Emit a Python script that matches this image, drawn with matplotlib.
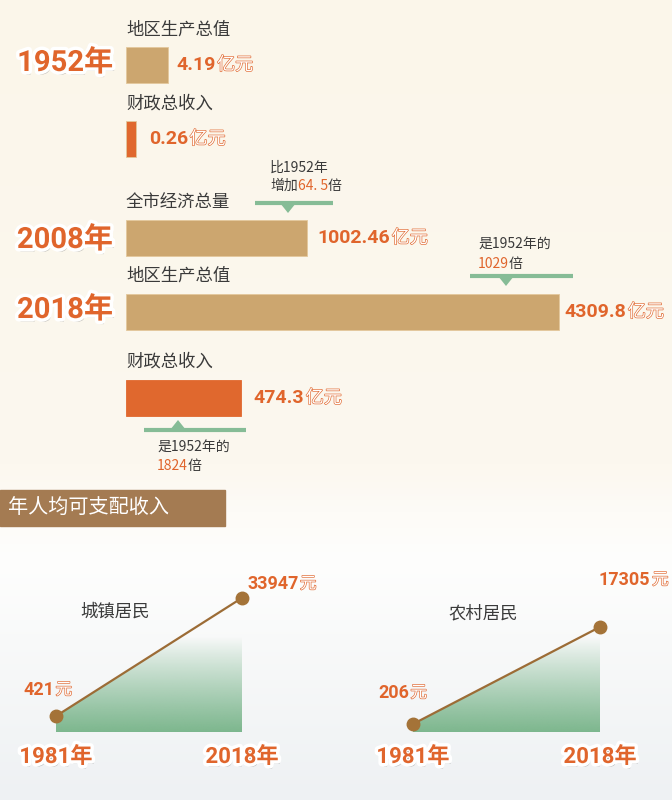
import numpy as np
import matplotlib.pyplot as plt
from matplotlib import patheffects as pe
from matplotlib.colors import to_rgb

plt.rcParams['font.family'] = ['Noto Sans CJK SC', 'DejaVu Sans']

# -------------------------------------------------------------------
# Data
# -------------------------------------------------------------------
bar_years = ["1952年", "2008年", "2018年"]
top_labels = ["地区生产总值", "财政总收入"]          # 1952
top_values = [4.19, 0.26]
main_labels = ["全市经济总量", "地区生产总值", "财政总收入"]  # 2008 / 2018
main_values = [1002.46, 4309.8, 474.3]
multiples = ["64. 5", "1029", "1824"]

income_years = [1981, 2018]
urban_income = [421, 33947]
rural_income = [206, 17305]
income_titles = ["城镇居民", "农村居民"]
section_title = "年人均可支配收入"

# -------------------------------------------------------------------
# Styles
# -------------------------------------------------------------------
W, H = 672, 800
ORANGE = "#E0652C"
TAN = "#CCA66F"
FISCAL = "#E0682E"
GREEN = "#86BC96"
DARK = "#3A3A3A"
LINE = "#9C6C36"
HEADER = "#A47B52"
NUM_FONT = ["Roboto", "Noto Sans CJK SC"]

fig = plt.figure(figsize=(W / 100, H / 100), dpi=100)

# background gradient (cream on top -> pale grey-blue at bottom)
bg = fig.add_axes([0, 0, 1, 1])
bg.set_xlim(0, W)
bg.set_ylim(H, 0)
bg.axis("off")
stops = [(0.0, "#FBF6EA"), (0.58, "#FCF8EF"), (0.64, "#FDFBF7"),
         (0.70, "#FEFEFD"), (1.0, "#EEF1F3")]
yy = np.linspace(0, 1, 400)
cols = np.array([to_rgb(c) for _, c in stops])
pos = [s for s, _ in stops]
grad = np.stack([np.interp(yy, pos, cols[:, i]) for i in range(3)], axis=1)
bg.imshow(grad[:, None, :], extent=[0, W, H, 0], aspect="auto", zorder=0)


def px_axes(left, top, right, bottom):
    """axes placed by pixel box"""
    return fig.add_axes([left / W, 1 - bottom / H, (right - left) / W, (bottom - top) / H])


def outlined(color=ORANGE, lw=0.9):
    return [pe.withStroke(linewidth=lw, foreground=color)]


halo = [pe.withSimplePatchShadow(offset=(1.5, -2.5), shadow_rgbFace="#555555", alpha=0.35),
        pe.withStroke(linewidth=5, foreground="white")]


def value_label(ax, x, y, num, unit, size=14, dx=8):
    t = ax.annotate(num, xy=(x, y), xytext=(dx, 0), textcoords="offset points",
                    ha="left", va="center", fontsize=size, fontweight="bold",
                    color=ORANGE, family=NUM_FONT, annotation_clip=False)
    ax.annotate(unit, xy=(1, 0.5), xycoords=t, xytext=(1, 0), textcoords="offset points",
                ha="left", va="center", fontsize=size - 1, color="white",
                path_effects=outlined(), annotation_clip=False)
    return t


def colored_text(ax, x, y, parts, size=10):
    prev = None
    for txt, c in parts:
        if prev is None:
            prev = ax.text(x, y, txt, fontsize=size, color=c, ha="left", va="center")
        else:
            prev = ax.annotate(txt, xy=(1, 0.5), xycoords=prev, ha="left", va="center",
                               fontsize=size, color=c)


def marker_line(x0, x1, y, tip_x, up=False):
    bg.plot([x0, x1], [y, y], color=GREEN, lw=3, solid_capstyle="butt", zorder=3)
    d = -10 if up else 10
    bg.fill([tip_x - 8, tip_x + 8, tip_x], [y, y, y + d], color=GREEN, zorder=3, lw=0)


# -------------------------------------------------------------------
# Bars (not to scale in the original -> power scales)
# -------------------------------------------------------------------
def power_axes(p, k):
    ax = px_axes(126, 0, W, H)
    ax.set_xscale("function", functions=(lambda v: np.power(np.clip(v, 0, None), p),
                                         lambda u: np.power(np.clip(u, 0, None), 1 / p)))
    ax.set_xlim(0, ((W - 126) / k) ** (1 / p))
    ax.set_ylim(H, 0)
    ax.axis("off")
    ax.patch.set_alpha(0)
    return ax


ax_top = power_axes(0.5, 20.5)
top_y = [65, 139]
ax_top.barh(top_y, top_values, height=36, color=[TAN, FISCAL], edgecolor="#E3C89C",
            linewidth=0.6)
for lab, v, y in zip(top_labels, top_values, top_y):
    ax_top.text(0, y - 35, lab, fontsize=12.5, color=DARK, va="center", ha="left")
value_label(ax_top, top_values[0], top_y[0], f"{top_values[0]}", "亿元", dx=6)
value_label(ax_top, top_values[1], top_y[1], f"{top_values[1]}", "亿元", dx=9)

ax_main = power_axes(0.6, 2.857)
main_y = [238, 312, 398]
ax_main.barh(main_y, main_values, height=36, color=[TAN, TAN, FISCAL],
             edgecolor=["#E3C89C", "#E3C89C", FISCAL], linewidth=0.6)
for lab, v, y in zip(main_labels, main_values, main_y):
    ax_main.text(0, y - 36, lab, fontsize=12.5, color=DARK, va="center", ha="left")
value_label(ax_main, main_values[0], main_y[0], f"{main_values[0]}", "亿元", dx=8)
value_label(ax_main, main_values[1], main_y[1], f"{main_values[1]}", "亿元", dx=4)
value_label(ax_main, main_values[2], main_y[2], f"{main_values[2]}", "亿元", dx=9)

# year tags
for yr, y in zip(bar_years, [63, 240, 310]):
    bg.text(113, y, yr, fontsize=21, fontweight="bold", color=ORANGE, ha="right",
            va="center", family=NUM_FONT, path_effects=halo, zorder=5)

# multiple call-outs
marker_line(255, 333, 203, 288)
colored_text(bg, 270, 168, [("比1952年", DARK)])
colored_text(bg, 270, 186, [("增加", DARK), (multiples[0], ORANGE), ("倍", DARK)])

marker_line(470, 573, 276, 506)
colored_text(bg, 478, 245, [("是1952年的", DARK)])
colored_text(bg, 478, 264, [(multiples[1], ORANGE), ("倍", DARK)])

marker_line(144, 246, 430, 178, up=True)
colored_text(bg, 157, 448, [("是1952年的", DARK)])
colored_text(bg, 157, 466, [(multiples[2], ORANGE), ("倍", DARK)])

# -------------------------------------------------------------------
# Income section
# -------------------------------------------------------------------
bg.add_patch(plt.Rectangle((0, 490), 225, 36, color=HEADER, zorder=2))
bg.text(8, 508, section_title, fontsize=14.5, color="white", va="center", ha="left", zorder=3)


def income_panel(left, right, vals, ylim, title, title_xy, val_xy):
    ax = px_axes(left, 560, right, 732)
    ax.set_xlim(income_years[0], income_years[1])
    ax.set_ylim(*ylim)
    ax.axis("off")
    ax.patch.set_alpha(0)
    poly = ax.fill_between(income_years, vals, ylim[0], color="none", lw=0)
    g = np.zeros((200, 1, 4))
    g[..., :3] = to_rgb("#7DB78E")
    g[:, 0, 3] = np.linspace(1, 0, 200) ** 0.9
    im = ax.imshow(g, extent=[0, 1, 0, 0.55], transform=ax.transAxes, aspect="auto",
                   origin="lower", zorder=1)
    path = poly.get_paths()[0]
    im.set_clip_path(path, transform=ax.transData)
    ax.plot(income_years, vals, color=LINE, lw=1.6, zorder=3, clip_on=False)
    ax.plot(income_years, vals, "o", color="#A47338", ms=9, zorder=4, clip_on=False)
    bg.text(*title_xy, title, fontsize=12.5, color=DARK, ha="center", va="center")
    for (x, y), v in zip(val_xy, vals):
        t = bg.text(x, y, f"{v}", fontsize=13, fontweight="bold", color=ORANGE,
                    family=NUM_FONT, ha="left", va="center", zorder=5)
        bg.annotate("元", xy=(1, 0.5), xycoords=t, xytext=(1, 0), textcoords="offset points",
                    ha="left", va="center", fontsize=12, color="white",
                    path_effects=outlined(), zorder=5)
    for x, yr in zip([left, right], income_years):
        bg.text(x, 757, f"{yr}年", fontsize=16, fontweight="bold", color=ORANGE,
                family=NUM_FONT, ha="center", va="center", path_effects=halo, zorder=5)
    return ax


income_panel(56, 242, urban_income, (-4100, 44700), income_titles[0], (115, 612),
             [(23, 690), (247, 584)])
income_panel(413, 600, rural_income, (-1200, 29100), income_titles[1], (483, 613),
             [(378, 693), (599, 580)])

fig.savefig("out.png", dpi=100)
